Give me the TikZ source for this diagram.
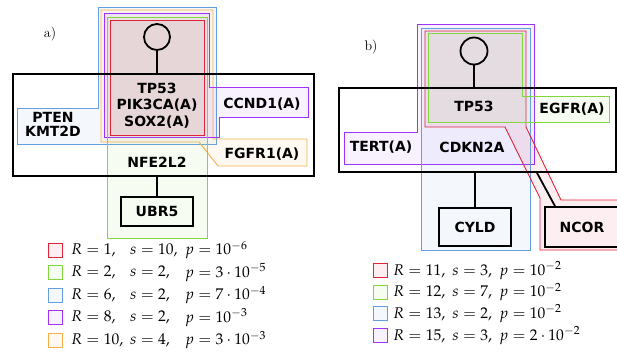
\documentclass[tikz,border=0pt]{standalone}
\usepackage{mathpazo}
\usepackage[no-math]{fontspec}
\newfontfamily\labfont{DejaVu Sans}
\definecolor{cred}{RGB}{225,35,55}
\definecolor{cgreen}{RGB}{130,215,60}
\definecolor{cblue}{RGB}{100,160,225}
\definecolor{cpurple}{RGB}{160,50,250}
\definecolor{corange}{RGB}{250,175,70}
\tikzset{
  reg/.style={draw=#1, line width=0.9pt, fill=#1, fill opacity=0.07},
  blk/.style={draw=black, line width=1.8pt},
  lab/.style={font=\labfont\bfseries\fontsize{14}{17}\selectfont, inner sep=0pt},
  leg/.style={font=\fontsize{15.5}{18}\selectfont, anchor=west, inner sep=0pt},
  sq/.style={reg=#1, minimum size=14pt, inner sep=0pt},
  panel/.style={font=\fontsize{14}{16}\selectfont, inner sep=0pt}
}
\begin{document}
\begin{tikzpicture}[x=1pt,y=-1pt]
\useasboundingbox (0,0) rectangle (617,351);
% ---------------- panel a: regions
\draw[reg=cblue] (98,7) -- (216,7) -- (216,144) -- (17,144) -- (17,108) -- (98,108) -- cycle;
\draw[reg=corange] (101,10) -- (213,10) -- (213,139) -- (307,139) -- (307,166) -- (218,166) -- (199,142) -- (101,142) -- cycle;
\draw[reg=cpurple] (104,13) -- (209,13) -- (209,87) -- (308,87) -- (308,117) -- (219,117) -- (219,137) -- (104,137) -- cycle;
\draw[reg=cgreen] (107,17) -- (207,17) -- (207,238) -- (107,238) -- cycle;
\draw[reg=cred] (110,20) -- (204,20) -- (204,135) -- (110,135) -- cycle;
% ---------------- panel a: structure
\node[panel] (pa) at (50,34) {a)};
\node[blk, circle, minimum size=26pt, inner sep=0pt] (ca) at (157,37) {};
\node[blk, minimum width=301pt, minimum height=102pt, inner sep=0pt] (ra) at (163.5,125) {};
\node[blk, lab, minimum width=72pt, minimum height=29pt] (ubr) at (157,211.5) {UBR5};
\draw[blk] (ca.south) -- (ca.south |- ra.north);
\draw[blk] (ubr.north |- ra.south) -- (ubr.north);
\node[lab] (tp53a) at (157,88) {TP53};
\node[lab] (pik) at (157,105) {PIK3CA(A)};
\node[lab] (sox) at (157,122) {SOX2(A)};
\node[lab] (pten) at (53,117) {PTEN};
\node[lab] (kmt) at (53,131) {KMT2D};
\node[lab] (ccnd) at (262,104) {CCND1(A)};
\node[lab] (fgfr) at (262,154) {FGFR1(A)};
\node[lab] (nfe) at (157,162) {NFE2L2};
% ---------------- panel a legend
\node[sq=cred] (la1) at (55,250) {};
\node[sq=cgreen] (la2) at (55,272.5) {};
\node[sq=cblue] (la3) at (55,295) {};
\node[sq=cpurple] (la4) at (55,317.5) {};
\node[sq=corange] (la5) at (55,340) {};
\node[leg] (la1r) at (71,250) {$R=1,$};
\node[leg] (la1s) at (130,250) {$s=10,$};
\node[leg] (la1p) at (185,250) {$p=10^{-6}$};
\node[leg] (la2r) at (71,272.5) {$R=2,$};
\node[leg] (la2s) at (130,272.5) {$s=2,$};
\node[leg] (la2p) at (185,272.5) {$p=3\cdot10^{-5}$};
\node[leg] (la3r) at (71,295) {$R=6,$};
\node[leg] (la3s) at (130,295) {$s=2,$};
\node[leg] (la3p) at (185,295) {$p=7\cdot10^{-4}$};
\node[leg] (la4r) at (71,317.5) {$R=8,$};
\node[leg] (la4s) at (130,317.5) {$s=2,$};
\node[leg] (la4p) at (185,317.5) {$p=10^{-3}$};
\node[leg] (la5r) at (71,340) {$R=10,$};
\node[leg] (la5s) at (130,340) {$s=4,$};
\node[leg] (la5p) at (185,340) {$p=3\cdot10^{-3}$};
% ---------------- panel b: regions
\draw[reg=cpurple] (417,24) -- (534,24) -- (534,164) -- (344,164) -- (344,132) -- (417,132) -- cycle;
\draw[reg=cblue] (421,28) -- (530,28) -- (530,250) -- (421,250) -- cycle;
\draw[reg=cred] (425,31) -- (526,31) -- (526,127) -- (561,200) -- (630,200) -- (630,250) -- (540,250) -- (540,198) -- (505,127) -- (425,127) -- cycle;
\draw[reg=cgreen] (428,33) -- (522,33) -- (522,96) -- (609,96) -- (609,122) -- (428,122) -- cycle;
% ---------------- panel b: structure
\node[panel] (pb) at (371,47) {b)};
\node[blk, circle, minimum size=27pt, inner sep=0pt] (cb) at (474,51) {};
\node[blk, minimum width=277pt, minimum height=84pt, inner sep=0pt] (rb) at (477.5,130) {};
\node[blk, lab, minimum width=72pt, minimum height=38pt] (cyld) at (475,227) {CYLD};
\node[blk, minimum width=84pt, minimum height=40pt, inner sep=0pt] (ncor) at (587,227) {};
\node[lab] (ncort) at (582,227) {NCOR};
\draw[blk] (cb.south) -- (cb.south |- rb.north);
\draw[blk] (cyld.north |- rb.south) -- (cyld.north);
\draw[blk] ([xshift=59.5pt]rb.south) -- ([xshift=-32pt]ncor.north);
\node[lab] (tp53b) at (474,106) {TP53};
\node[lab] (egfr) at (572,109) {EGFR(A)};
\node[lab] (tert) at (381,147) {TERT(A)};
\node[lab] (cdkn) at (472,147) {CDKN2A};
% ---------------- panel b legend
\node[sq=cred] (lb1) at (380,270.5) {};
\node[sq=cgreen] (lb2) at (380,292) {};
\node[sq=cblue] (lb3) at (380,313.5) {};
\node[sq=cpurple] (lb4) at (380,335.5) {};
\node[leg] (lb1t) at (393,270.5) {$R=11,\ s=3,\ p=10^{-2}$};
\node[leg] (lb2t) at (393,292) {$R=12,\ s=7,\ p=10^{-2}$};
\node[leg] (lb3t) at (393,313.5) {$R=13,\ s=2,\ p=10^{-2}$};
\node[leg] (lb4t) at (393,335.5) {$R=15,\ s=3,\ p=2\cdot10^{-2}$};
\end{tikzpicture}
\end{document}
